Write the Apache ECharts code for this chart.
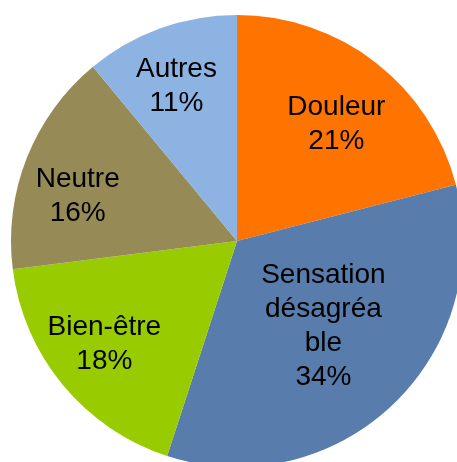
<!DOCTYPE html>
<html>
<head>
<meta charset="utf-8">
<script src="https://cdn.jsdelivr.net/npm/echarts@6/dist/echarts.min.js"></script>
<style>
  html, body { margin: 0; padding: 0; background: #fff; }
  #main { width: 457px; height: 462px; }
</style>
</head>
<body>
<div id="main"></div>
<script>
// slices, clockwise from 12 o'clock
const categories = ['Douleur', 'Sensation désagréable', 'Bien-être', 'Neutre', 'Autres'];
const values = [21, 34, 18, 16, 11];
const labelText = ['Douleur', 'Sensation\ndésagréa\nble', 'Bien-être', 'Neutre', 'Autres'];
const colors = ['#FF7300', '#587CAB', '#99CC00', '#968A56', '#8DB3E2'];

const center = [237, 241];
const labelFont = { fontFamily: 'Liberation Sans, Arial, sans-serif', fontSize: 28, lineHeight: 34, color: '#000' };
// small nudges so labels sit where the original put them
const labelShift = [[-3, 15], [7, 1], [-4, -3], [-4, 17], [-4, 2]];

// Sensation label sits closer to the centre (main pie), others further out (ghost pie)
const inner = [1];

const chart = echarts.init(document.getElementById('main'));

function makeLabel (i, show) {
  return {
    show: show,
    position: 'inside',
    formatter: labelText[i] + '\n' + values[i] + '%',
    ...labelFont
  };
}

function nudge (params) {
  const s = labelShift[params.dataIndex];
  return { dx: s[0], dy: s[1] };
}

chart.setOption({
  animation: false,
  series: [
    {
      type: 'pie',
      center: center,
      radius: 226,
      startAngle: 90,
      clockwise: true,
      avoidLabelOverlap: false,
      silent: true,
      itemStyle: { borderWidth: 0 },
      labelLayout: nudge,
      data: categories.map((c, i) => ({
        name: c,
        value: values[i],
        itemStyle: { color: colors[i] },
        label: makeLabel(i, inner.indexOf(i) >= 0)
      })),
      labelLine: { show: false }
    },
    {
      // invisible larger pie, only used to push labels outward
      type: 'pie',
      center: center,
      radius: 328,
      startAngle: 90,
      clockwise: true,
      avoidLabelOverlap: false,
      silent: true,
      z: 3,
      emphasis: { disabled: true },
      itemStyle: { color: 'rgba(0,0,0,0)', borderWidth: 0 },
      labelLayout: nudge,
      data: categories.map((c, i) => ({
        name: c,
        value: values[i],
        label: makeLabel(i, inner.indexOf(i) < 0)
      })),
      labelLine: { show: false }
    }
  ]
});
</script>
</body>
</html>
